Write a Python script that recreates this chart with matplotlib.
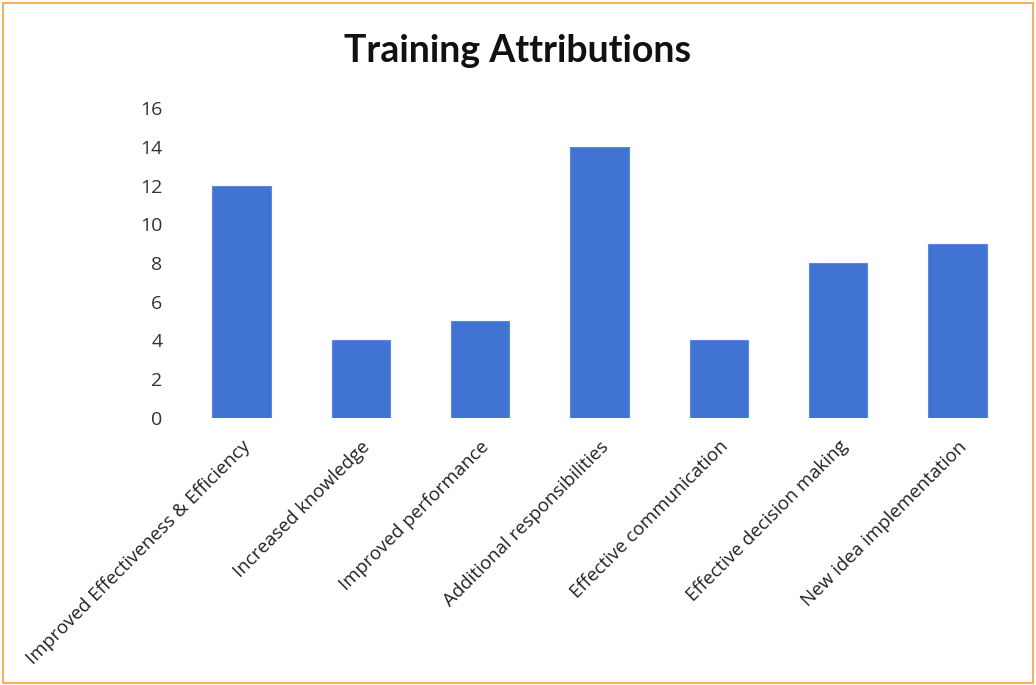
import matplotlib
matplotlib.use("Agg")
import matplotlib.pyplot as plt
from matplotlib.patches import Rectangle

categories = [
    "Improved Effectiveness & Efficiency",
    "Increased knowledge",
    "Improved performance",
    "Additional responsibilities",
    "Effective communication",
    "Effective decision making",
    "New idea implementation",
]
counts = [12, 4, 5, 14, 4, 8, 9]
y_ticks = [0, 2, 4, 6, 8, 10, 12, 14, 16]

plt.rcParams["font.family"] = ["Open Sans", "DejaVu Sans"]

fig = plt.figure(figsize=(10.36, 6.85), dpi=100)
ax = fig.add_axes([0.1757, 0.3898, 0.806, 0.4525])

x = range(len(categories))
ax.bar(x, counts, width=0.49, color="#4173d3", edgecolor="#5a8ae0", linewidth=0.8)

ax.set_xlim(-0.5, len(categories) - 0.5)
ax.set_ylim(0, 16)
ax.set_yticks(y_ticks)
ax.set_yticklabels([str(v) for v in y_ticks], fontsize=14, color="#333333")
ax.set_xticks(list(x))
ax.set_xticklabels(categories, rotation=45, ha="right", rotation_mode="anchor",
                   fontsize=13.5, color="#222222")
ax.tick_params(axis="both", length=0)
ax.tick_params(axis="y", pad=14)
ax.tick_params(axis="x", pad=14)
for s in ax.spines.values():
    s.set_visible(False)

fig.text(0.5, 0.925, "Training Attributions", ha="center", va="center",
         fontsize=27, fontweight="bold", color="#111111", family=["Lato", "DejaVu Sans"])

# thin orange frame around the whole chart
fig.patches.append(Rectangle((0.003, 0.003), 0.994, 0.992, transform=fig.transFigure,
                             fill=False, edgecolor="#f5b060", linewidth=1.5))

fig.savefig("out.png", dpi=100)
